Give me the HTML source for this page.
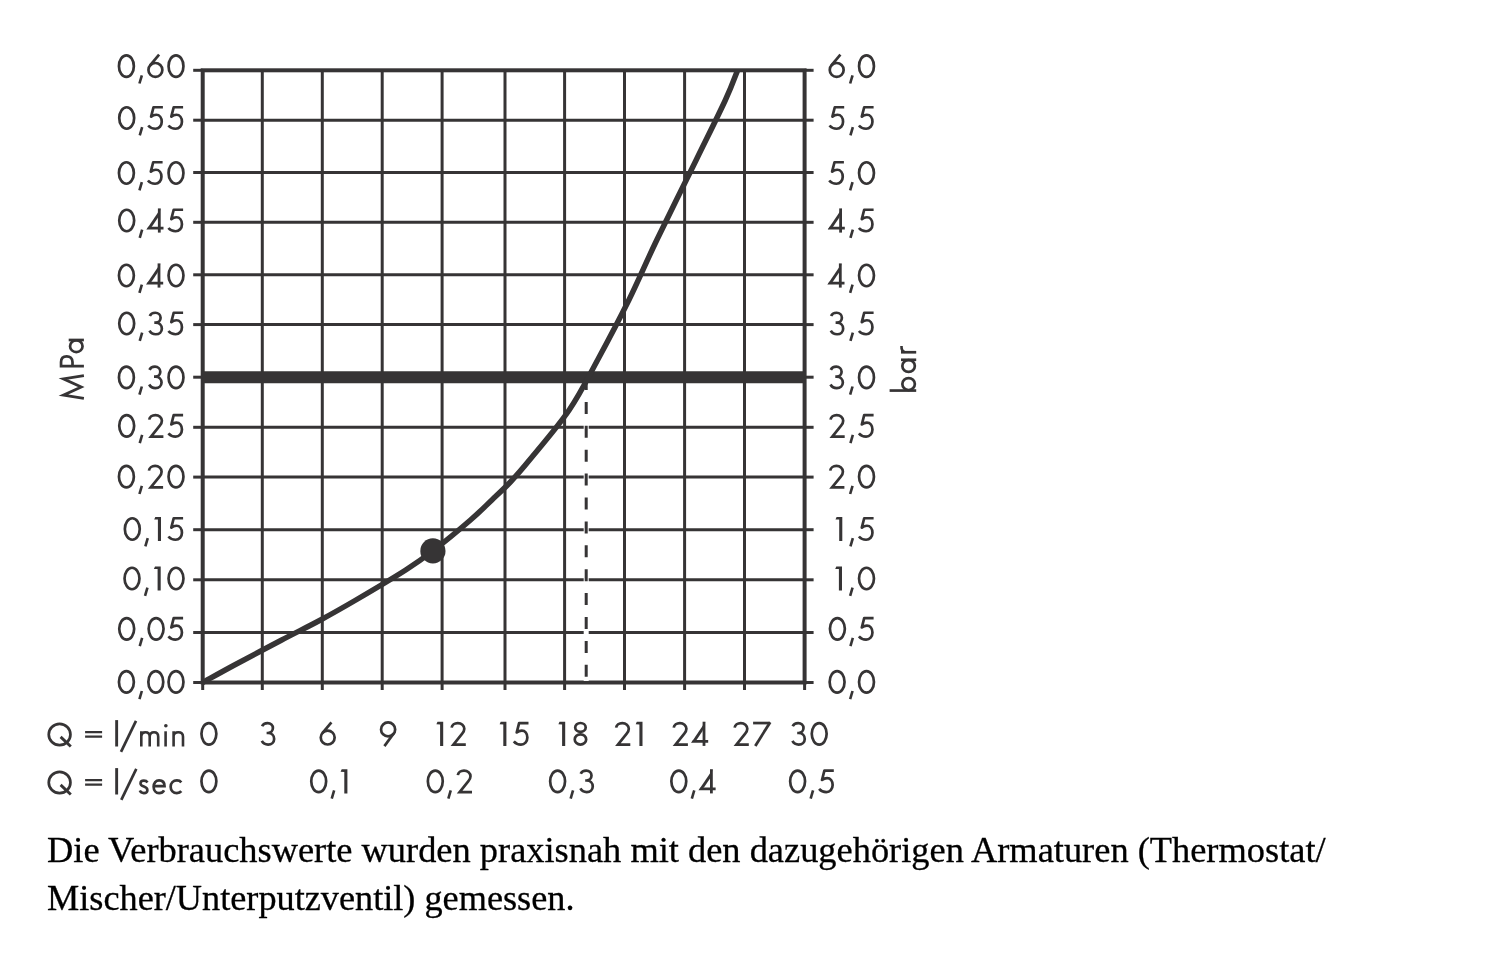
<!DOCTYPE html>
<html><head><meta charset="utf-8"><style>
html,body{margin:0;padding:0;background:#fff;width:1500px;height:956px;overflow:hidden}
svg{position:absolute;left:0;top:0}
.cap{position:absolute;left:47px;will-change:transform;font-family:"Liberation Serif",serif;font-size:36.4px;color:#000;white-space:nowrap;line-height:1;-webkit-text-stroke:0.3px #000}
</style></head><body>
<svg width="1500" height="956" viewBox="0 0 1500 956">
<g stroke="#363435" fill="none">
<line x1="262.3" y1="70.3" x2="262.3" y2="682.5" stroke-width="3"/>
<line x1="322.3" y1="70.3" x2="322.3" y2="682.5" stroke-width="3"/>
<line x1="382.2" y1="70.3" x2="382.2" y2="682.5" stroke-width="3"/>
<line x1="442.1" y1="70.3" x2="442.1" y2="682.5" stroke-width="3"/>
<line x1="505.0" y1="70.3" x2="505.0" y2="682.5" stroke-width="3"/>
<line x1="564.6" y1="70.3" x2="564.6" y2="682.5" stroke-width="3"/>
<line x1="624.5" y1="70.3" x2="624.5" y2="682.5" stroke-width="3"/>
<line x1="684.6" y1="70.3" x2="684.6" y2="682.5" stroke-width="3"/>
<line x1="744.5" y1="70.3" x2="744.5" y2="682.5" stroke-width="3"/>
<line x1="202.7" y1="120.2" x2="804.6" y2="120.2" stroke-width="3"/>
<line x1="202.7" y1="172.5" x2="804.6" y2="172.5" stroke-width="3"/>
<line x1="202.7" y1="222.3" x2="804.6" y2="222.3" stroke-width="3"/>
<line x1="202.7" y1="274.8" x2="804.6" y2="274.8" stroke-width="3"/>
<line x1="202.7" y1="324.6" x2="804.6" y2="324.6" stroke-width="3"/>
<line x1="202.7" y1="377.2" x2="804.6" y2="377.2" stroke-width="3"/>
<line x1="202.7" y1="427.3" x2="804.6" y2="427.3" stroke-width="3"/>
<line x1="202.7" y1="477.1" x2="804.6" y2="477.1" stroke-width="3"/>
<line x1="202.7" y1="529.7" x2="804.6" y2="529.7" stroke-width="3"/>
<line x1="202.7" y1="579.8" x2="804.6" y2="579.8" stroke-width="3"/>
<line x1="202.7" y1="632.5" x2="804.6" y2="632.5" stroke-width="3"/>
<line x1="193.2" y1="70.3" x2="202.7" y2="70.3" stroke-width="3"/>
<line x1="804.6" y1="70.3" x2="813.6" y2="70.3" stroke-width="3"/>
<line x1="193.2" y1="120.2" x2="202.7" y2="120.2" stroke-width="3"/>
<line x1="804.6" y1="120.2" x2="813.6" y2="120.2" stroke-width="3"/>
<line x1="193.2" y1="172.5" x2="202.7" y2="172.5" stroke-width="3"/>
<line x1="804.6" y1="172.5" x2="813.6" y2="172.5" stroke-width="3"/>
<line x1="193.2" y1="222.3" x2="202.7" y2="222.3" stroke-width="3"/>
<line x1="804.6" y1="222.3" x2="813.6" y2="222.3" stroke-width="3"/>
<line x1="193.2" y1="274.8" x2="202.7" y2="274.8" stroke-width="3"/>
<line x1="804.6" y1="274.8" x2="813.6" y2="274.8" stroke-width="3"/>
<line x1="193.2" y1="324.6" x2="202.7" y2="324.6" stroke-width="3"/>
<line x1="804.6" y1="324.6" x2="813.6" y2="324.6" stroke-width="3"/>
<line x1="193.2" y1="377.2" x2="202.7" y2="377.2" stroke-width="3"/>
<line x1="804.6" y1="377.2" x2="813.6" y2="377.2" stroke-width="3"/>
<line x1="193.2" y1="427.3" x2="202.7" y2="427.3" stroke-width="3"/>
<line x1="804.6" y1="427.3" x2="813.6" y2="427.3" stroke-width="3"/>
<line x1="193.2" y1="477.1" x2="202.7" y2="477.1" stroke-width="3"/>
<line x1="804.6" y1="477.1" x2="813.6" y2="477.1" stroke-width="3"/>
<line x1="193.2" y1="529.7" x2="202.7" y2="529.7" stroke-width="3"/>
<line x1="804.6" y1="529.7" x2="813.6" y2="529.7" stroke-width="3"/>
<line x1="193.2" y1="579.8" x2="202.7" y2="579.8" stroke-width="3"/>
<line x1="804.6" y1="579.8" x2="813.6" y2="579.8" stroke-width="3"/>
<line x1="193.2" y1="632.5" x2="202.7" y2="632.5" stroke-width="3"/>
<line x1="804.6" y1="632.5" x2="813.6" y2="632.5" stroke-width="3"/>
<line x1="193.2" y1="682.5" x2="202.7" y2="682.5" stroke-width="3"/>
<line x1="804.6" y1="682.5" x2="813.6" y2="682.5" stroke-width="3"/>
<line x1="202.7" y1="682.5" x2="202.7" y2="690" stroke-width="3"/>
<line x1="262.3" y1="682.5" x2="262.3" y2="690" stroke-width="3"/>
<line x1="322.3" y1="682.5" x2="322.3" y2="690" stroke-width="3"/>
<line x1="382.2" y1="682.5" x2="382.2" y2="690" stroke-width="3"/>
<line x1="442.1" y1="682.5" x2="442.1" y2="690" stroke-width="3"/>
<line x1="505.0" y1="682.5" x2="505.0" y2="690" stroke-width="3"/>
<line x1="564.6" y1="682.5" x2="564.6" y2="690" stroke-width="3"/>
<line x1="624.5" y1="682.5" x2="624.5" y2="690" stroke-width="3"/>
<line x1="684.6" y1="682.5" x2="684.6" y2="690" stroke-width="3"/>
<line x1="744.5" y1="682.5" x2="744.5" y2="690" stroke-width="3"/>
<line x1="804.6" y1="682.5" x2="804.6" y2="690" stroke-width="3"/>
<rect x="202.7" y="70.3" width="601.9" height="612.2" fill="none" stroke-width="4"/>
<line x1="202.7" y1="377.2" x2="804.6" y2="377.2" stroke-width="12"/>
<line x1="586.2" y1="384" x2="586.2" y2="681" stroke-width="5" stroke="#fff"/>
<line x1="586.2" y1="378" x2="586.2" y2="682" stroke-width="3" stroke-dasharray="12 11.9"/>
<path d="M202.7,682.5 C208.0,679.6 221.3,672.1 234.5,665.0 C247.7,657.9 267.4,647.5 281.7,640.0 C296.0,632.5 308.1,626.7 320.5,620.0 C332.9,613.3 341.7,608.3 355.9,600.0 C370.1,591.7 392.9,578.2 405.7,570.0 C418.5,561.8 422.1,559.2 432.9,550.9 C443.7,542.6 460.7,528.5 470.5,520.0 C480.3,511.5 485.2,506.3 491.9,500.0 C498.5,493.7 504.1,488.7 510.4,482.0 C516.7,475.3 519.7,472.0 529.5,460.0 C539.3,448.0 557.9,426.7 569.2,410.0 C580.6,393.3 587.7,378.3 597.6,360.0 C607.5,341.7 619.0,320.0 628.9,300.0 C638.8,280.0 645.6,263.3 656.8,240.0 C668.0,216.7 684.8,183.3 696.2,160.0 C707.6,136.7 718.5,115.0 725.4,100.0 C732.3,85.0 735.6,75.2 737.6,70.2" fill="none" stroke-width="5.5" stroke-linecap="butt"/>
<circle cx="432.9" cy="550.9" r="12.6" fill="#363435" stroke="none"/>
</g>
<g stroke="#363435" fill="none" color="#363435" stroke-linecap="butt" stroke-linejoin="miter" stroke-miterlimit="10">
<path transform="translate(117.6,78.3)" d="M1.35,-12.1 a7.45,10.75 0 1,0 14.9,0 a7.45,10.75 0 1,0 -14.9,0" stroke-width="2.7"/>
<path transform="translate(138.3,78.3)" d="M3.55,-3.0 L1.15,5.2" stroke-width="2.6"/>
<path transform="translate(147.1,78.3)" d="M1.35,-8.35 a6.95,6.95 0 1,0 13.9,0 a6.95,6.95 0 1,0 -13.9,0" stroke-width="2.7"/>
<path transform="translate(147.1,78.3)" d="M12,-23.6 L2.97,-12.81" stroke-width="2.7"/>
<path transform="translate(167.2,78.3)" d="M1.35,-12.1 a7.45,10.75 0 1,0 14.9,0 a7.45,10.75 0 1,0 -14.9,0" stroke-width="2.7"/>
<path transform="translate(117.9,130.1)" d="M1.35,-12.1 a7.45,10.75 0 1,0 14.9,0 a7.45,10.75 0 1,0 -14.9,0" stroke-width="2.7"/>
<path transform="translate(138.6,130.1)" d="M3.55,-3.0 L1.15,5.2" stroke-width="2.6"/>
<path transform="translate(147,130.1)" d="M15.9,-22.85 L6.5,-22.85 L4.1,-13.4 C5.6,-14.7 7.5,-15.35 9.2,-15.35 C12.5,-15.35 14.75,-12.4 14.75,-8.4 C14.75,-4.3 12.0,-1.35 8.4,-1.35 C5.6,-1.35 2.9,-2.6 1.2,-4.6" stroke-width="2.7" stroke-linejoin="round"/>
<path transform="translate(167.2,130.1)" d="M15.9,-22.85 L6.5,-22.85 L4.1,-13.4 C5.6,-14.7 7.5,-15.35 9.2,-15.35 C12.5,-15.35 14.75,-12.4 14.75,-8.4 C14.75,-4.3 12.0,-1.35 8.4,-1.35 C5.6,-1.35 2.9,-2.6 1.2,-4.6" stroke-width="2.7" stroke-linejoin="round"/>
<path transform="translate(117.6,185.1)" d="M1.35,-12.1 a7.45,10.75 0 1,0 14.9,0 a7.45,10.75 0 1,0 -14.9,0" stroke-width="2.7"/>
<path transform="translate(138.3,185.1)" d="M3.55,-3.0 L1.15,5.2" stroke-width="2.6"/>
<path transform="translate(146.7,185.1)" d="M15.9,-22.85 L6.5,-22.85 L4.1,-13.4 C5.6,-14.7 7.5,-15.35 9.2,-15.35 C12.5,-15.35 14.75,-12.4 14.75,-8.4 C14.75,-4.3 12.0,-1.35 8.4,-1.35 C5.6,-1.35 2.9,-2.6 1.2,-4.6" stroke-width="2.7" stroke-linejoin="round"/>
<path transform="translate(167.2,185.1)" d="M1.35,-12.1 a7.45,10.75 0 1,0 14.9,0 a7.45,10.75 0 1,0 -14.9,0" stroke-width="2.7"/>
<path transform="translate(117.9,232.6)" d="M1.35,-12.1 a7.45,10.75 0 1,0 14.9,0 a7.45,10.75 0 1,0 -14.9,0" stroke-width="2.7"/>
<path transform="translate(138.6,232.6)" d="M3.55,-3.0 L1.15,5.2" stroke-width="2.6"/>
<path transform="translate(146.5,232.6)" d="M11.4,-24.2 L14.2,-24.2 L14.2,0 L11.4,0 Z" fill="currentColor" stroke="none"/>
<path transform="translate(146.5,232.6)" d="M0,-3.15 L17,-3.15 L17,-5.85 L1.82,-5.85 Z" fill="currentColor" stroke="none"/>
<path transform="translate(146.5,232.6)" d="M0,-3.15 L14.2,-24.2 L11.4,-14.86 L5.32,-5.85 Z" fill="currentColor" stroke="none"/>
<path transform="translate(167.2,232.6)" d="M15.9,-22.85 L6.5,-22.85 L4.1,-13.4 C5.6,-14.7 7.5,-15.35 9.2,-15.35 C12.5,-15.35 14.75,-12.4 14.75,-8.4 C14.75,-4.3 12.0,-1.35 8.4,-1.35 C5.6,-1.35 2.9,-2.6 1.2,-4.6" stroke-width="2.7" stroke-linejoin="round"/>
<path transform="translate(117.6,287.6)" d="M1.35,-12.1 a7.45,10.75 0 1,0 14.9,0 a7.45,10.75 0 1,0 -14.9,0" stroke-width="2.7"/>
<path transform="translate(138.3,287.6)" d="M3.55,-3.0 L1.15,5.2" stroke-width="2.6"/>
<path transform="translate(146.2,287.6)" d="M11.4,-24.2 L14.2,-24.2 L14.2,0 L11.4,0 Z" fill="currentColor" stroke="none"/>
<path transform="translate(146.2,287.6)" d="M0,-3.15 L17,-3.15 L17,-5.85 L1.82,-5.85 Z" fill="currentColor" stroke="none"/>
<path transform="translate(146.2,287.6)" d="M0,-3.15 L14.2,-24.2 L11.4,-14.86 L5.32,-5.85 Z" fill="currentColor" stroke="none"/>
<path transform="translate(167.2,287.6)" d="M1.35,-12.1 a7.45,10.75 0 1,0 14.9,0 a7.45,10.75 0 1,0 -14.9,0" stroke-width="2.7"/>
<path transform="translate(117.9,335.6)" d="M1.35,-12.1 a7.45,10.75 0 1,0 14.9,0 a7.45,10.75 0 1,0 -14.9,0" stroke-width="2.7"/>
<path transform="translate(138.6,335.6)" d="M3.55,-3.0 L1.15,5.2" stroke-width="2.6"/>
<path transform="translate(148.3,335.6)" d="M1.5,-19.6 C2.4,-21.7 4.6,-22.85 7.0,-22.85 C10.0,-22.85 12.3,-20.6 12.3,-17.8 C12.3,-15.0 10.2,-12.9 7.3,-12.9 L6.0,-12.9 M6.0,-12.9 L7.4,-12.9 C11.0,-12.9 13.55,-10.2 13.55,-6.9 C13.55,-3.7 11.0,-1.35 7.5,-1.35 C4.8,-1.35 2.4,-2.8 1.2,-5.0" stroke-width="2.7"/>
<path transform="translate(167.2,335.6)" d="M15.9,-22.85 L6.5,-22.85 L4.1,-13.4 C5.6,-14.7 7.5,-15.35 9.2,-15.35 C12.5,-15.35 14.75,-12.4 14.75,-8.4 C14.75,-4.3 12.0,-1.35 8.4,-1.35 C5.6,-1.35 2.9,-2.6 1.2,-4.6" stroke-width="2.7" stroke-linejoin="round"/>
<path transform="translate(117.6,389.5)" d="M1.35,-12.1 a7.45,10.75 0 1,0 14.9,0 a7.45,10.75 0 1,0 -14.9,0" stroke-width="2.7"/>
<path transform="translate(138.3,389.5)" d="M3.55,-3.0 L1.15,5.2" stroke-width="2.6"/>
<path transform="translate(148,389.5)" d="M1.5,-19.6 C2.4,-21.7 4.6,-22.85 7.0,-22.85 C10.0,-22.85 12.3,-20.6 12.3,-17.8 C12.3,-15.0 10.2,-12.9 7.3,-12.9 L6.0,-12.9 M6.0,-12.9 L7.4,-12.9 C11.0,-12.9 13.55,-10.2 13.55,-6.9 C13.55,-3.7 11.0,-1.35 7.5,-1.35 C4.8,-1.35 2.4,-2.8 1.2,-5.0" stroke-width="2.7"/>
<path transform="translate(167.2,389.5)" d="M1.35,-12.1 a7.45,10.75 0 1,0 14.9,0 a7.45,10.75 0 1,0 -14.9,0" stroke-width="2.7"/>
<path transform="translate(117.9,437.9)" d="M1.35,-12.1 a7.45,10.75 0 1,0 14.9,0 a7.45,10.75 0 1,0 -14.9,0" stroke-width="2.7"/>
<path transform="translate(138.6,437.9)" d="M3.55,-3.0 L1.15,5.2" stroke-width="2.6"/>
<path transform="translate(147.9,437.9)" d="M1.35,-18.2 C1.6,-21.0 4.3,-22.85 7.5,-22.85 C11.1,-22.85 14.0,-20.4 14.0,-17.1 C14.0,-15.0 13.1,-13.6 11.9,-12.2 L3.1,-1.35 L15.5,-1.35" stroke-width="2.7"/>
<path transform="translate(167.2,437.9)" d="M15.9,-22.85 L6.5,-22.85 L4.1,-13.4 C5.6,-14.7 7.5,-15.35 9.2,-15.35 C12.5,-15.35 14.75,-12.4 14.75,-8.4 C14.75,-4.3 12.0,-1.35 8.4,-1.35 C5.6,-1.35 2.9,-2.6 1.2,-4.6" stroke-width="2.7" stroke-linejoin="round"/>
<path transform="translate(117.6,488.8)" d="M1.35,-12.1 a7.45,10.75 0 1,0 14.9,0 a7.45,10.75 0 1,0 -14.9,0" stroke-width="2.7"/>
<path transform="translate(138.3,488.8)" d="M3.55,-3.0 L1.15,5.2" stroke-width="2.6"/>
<path transform="translate(147.6,488.8)" d="M1.35,-18.2 C1.6,-21.0 4.3,-22.85 7.5,-22.85 C11.1,-22.85 14.0,-20.4 14.0,-17.1 C14.0,-15.0 13.1,-13.6 11.9,-12.2 L3.1,-1.35 L15.5,-1.35" stroke-width="2.7"/>
<path transform="translate(167.2,488.8)" d="M1.35,-12.1 a7.45,10.75 0 1,0 14.9,0 a7.45,10.75 0 1,0 -14.9,0" stroke-width="2.7"/>
<path transform="translate(123.5,541.1)" d="M1.35,-12.1 a7.45,10.75 0 1,0 14.9,0 a7.45,10.75 0 1,0 -14.9,0" stroke-width="2.7"/>
<path transform="translate(144.2,541.1)" d="M3.55,-3.0 L1.15,5.2" stroke-width="2.6"/>
<path transform="translate(154.2,541.1)" d="M3.7,-24.2 L6.8,-24.2 L6.8,0 L3.7,0 Z M0,-21.6 L1.1,-24.2 L3.9,-24.2 L3.9,-21.5 Z" fill="currentColor" stroke="none"/>
<path transform="translate(167.2,541.1)" d="M15.9,-22.85 L6.5,-22.85 L4.1,-13.4 C5.6,-14.7 7.5,-15.35 9.2,-15.35 C12.5,-15.35 14.75,-12.4 14.75,-8.4 C14.75,-4.3 12.0,-1.35 8.4,-1.35 C5.6,-1.35 2.9,-2.6 1.2,-4.6" stroke-width="2.7" stroke-linejoin="round"/>
<path transform="translate(123.2,590.6)" d="M1.35,-12.1 a7.45,10.75 0 1,0 14.9,0 a7.45,10.75 0 1,0 -14.9,0" stroke-width="2.7"/>
<path transform="translate(143.9,590.6)" d="M3.55,-3.0 L1.15,5.2" stroke-width="2.6"/>
<path transform="translate(153.9,590.6)" d="M3.7,-24.2 L6.8,-24.2 L6.8,0 L3.7,0 Z M0,-21.6 L1.1,-24.2 L3.9,-24.2 L3.9,-21.5 Z" fill="currentColor" stroke="none"/>
<path transform="translate(167.2,590.6)" d="M1.35,-12.1 a7.45,10.75 0 1,0 14.9,0 a7.45,10.75 0 1,0 -14.9,0" stroke-width="2.7"/>
<path transform="translate(117.9,640.9)" d="M1.35,-12.1 a7.45,10.75 0 1,0 14.9,0 a7.45,10.75 0 1,0 -14.9,0" stroke-width="2.7"/>
<path transform="translate(138.6,640.9)" d="M3.55,-3.0 L1.15,5.2" stroke-width="2.6"/>
<path transform="translate(147.3,640.9)" d="M1.35,-12.1 a7.45,10.75 0 1,0 14.9,0 a7.45,10.75 0 1,0 -14.9,0" stroke-width="2.7"/>
<path transform="translate(167.2,640.9)" d="M15.9,-22.85 L6.5,-22.85 L4.1,-13.4 C5.6,-14.7 7.5,-15.35 9.2,-15.35 C12.5,-15.35 14.75,-12.4 14.75,-8.4 C14.75,-4.3 12.0,-1.35 8.4,-1.35 C5.6,-1.35 2.9,-2.6 1.2,-4.6" stroke-width="2.7" stroke-linejoin="round"/>
<path transform="translate(117.6,694)" d="M1.35,-12.1 a7.45,10.75 0 1,0 14.9,0 a7.45,10.75 0 1,0 -14.9,0" stroke-width="2.7"/>
<path transform="translate(138.3,694)" d="M3.55,-3.0 L1.15,5.2" stroke-width="2.6"/>
<path transform="translate(147,694)" d="M1.35,-12.1 a7.45,10.75 0 1,0 14.9,0 a7.45,10.75 0 1,0 -14.9,0" stroke-width="2.7"/>
<path transform="translate(167.2,694)" d="M1.35,-12.1 a7.45,10.75 0 1,0 14.9,0 a7.45,10.75 0 1,0 -14.9,0" stroke-width="2.7"/>
<path transform="translate(828.4,78.3)" d="M1.35,-8.35 a6.95,6.95 0 1,0 13.9,0 a6.95,6.95 0 1,0 -13.9,0" stroke-width="2.7"/>
<path transform="translate(828.4,78.3)" d="M12,-23.6 L2.97,-12.81" stroke-width="2.7"/>
<path transform="translate(849,78.3)" d="M3.55,-3.0 L1.15,5.2" stroke-width="2.6"/>
<path transform="translate(857.7,78.3)" d="M1.35,-12.1 a7.45,10.75 0 1,0 14.9,0 a7.45,10.75 0 1,0 -14.9,0" stroke-width="2.7"/>
<path transform="translate(828.3,130.1)" d="M15.9,-22.85 L6.5,-22.85 L4.1,-13.4 C5.6,-14.7 7.5,-15.35 9.2,-15.35 C12.5,-15.35 14.75,-12.4 14.75,-8.4 C14.75,-4.3 12.0,-1.35 8.4,-1.35 C5.6,-1.35 2.9,-2.6 1.2,-4.6" stroke-width="2.7" stroke-linejoin="round"/>
<path transform="translate(849.3,130.1)" d="M3.55,-3.0 L1.15,5.2" stroke-width="2.6"/>
<path transform="translate(857.7,130.1)" d="M15.9,-22.85 L6.5,-22.85 L4.1,-13.4 C5.6,-14.7 7.5,-15.35 9.2,-15.35 C12.5,-15.35 14.75,-12.4 14.75,-8.4 C14.75,-4.3 12.0,-1.35 8.4,-1.35 C5.6,-1.35 2.9,-2.6 1.2,-4.6" stroke-width="2.7" stroke-linejoin="round"/>
<path transform="translate(828,185.1)" d="M15.9,-22.85 L6.5,-22.85 L4.1,-13.4 C5.6,-14.7 7.5,-15.35 9.2,-15.35 C12.5,-15.35 14.75,-12.4 14.75,-8.4 C14.75,-4.3 12.0,-1.35 8.4,-1.35 C5.6,-1.35 2.9,-2.6 1.2,-4.6" stroke-width="2.7" stroke-linejoin="round"/>
<path transform="translate(849,185.1)" d="M3.55,-3.0 L1.15,5.2" stroke-width="2.6"/>
<path transform="translate(857.7,185.1)" d="M1.35,-12.1 a7.45,10.75 0 1,0 14.9,0 a7.45,10.75 0 1,0 -14.9,0" stroke-width="2.7"/>
<path transform="translate(827.8,232.6)" d="M11.4,-24.2 L14.2,-24.2 L14.2,0 L11.4,0 Z" fill="currentColor" stroke="none"/>
<path transform="translate(827.8,232.6)" d="M0,-3.15 L17,-3.15 L17,-5.85 L1.82,-5.85 Z" fill="currentColor" stroke="none"/>
<path transform="translate(827.8,232.6)" d="M0,-3.15 L14.2,-24.2 L11.4,-14.86 L5.32,-5.85 Z" fill="currentColor" stroke="none"/>
<path transform="translate(849.3,232.6)" d="M3.55,-3.0 L1.15,5.2" stroke-width="2.6"/>
<path transform="translate(857.7,232.6)" d="M15.9,-22.85 L6.5,-22.85 L4.1,-13.4 C5.6,-14.7 7.5,-15.35 9.2,-15.35 C12.5,-15.35 14.75,-12.4 14.75,-8.4 C14.75,-4.3 12.0,-1.35 8.4,-1.35 C5.6,-1.35 2.9,-2.6 1.2,-4.6" stroke-width="2.7" stroke-linejoin="round"/>
<path transform="translate(827.5,287.6)" d="M11.4,-24.2 L14.2,-24.2 L14.2,0 L11.4,0 Z" fill="currentColor" stroke="none"/>
<path transform="translate(827.5,287.6)" d="M0,-3.15 L17,-3.15 L17,-5.85 L1.82,-5.85 Z" fill="currentColor" stroke="none"/>
<path transform="translate(827.5,287.6)" d="M0,-3.15 L14.2,-24.2 L11.4,-14.86 L5.32,-5.85 Z" fill="currentColor" stroke="none"/>
<path transform="translate(849,287.6)" d="M3.55,-3.0 L1.15,5.2" stroke-width="2.6"/>
<path transform="translate(857.7,287.6)" d="M1.35,-12.1 a7.45,10.75 0 1,0 14.9,0 a7.45,10.75 0 1,0 -14.9,0" stroke-width="2.7"/>
<path transform="translate(829.6,335.6)" d="M1.5,-19.6 C2.4,-21.7 4.6,-22.85 7.0,-22.85 C10.0,-22.85 12.3,-20.6 12.3,-17.8 C12.3,-15.0 10.2,-12.9 7.3,-12.9 L6.0,-12.9 M6.0,-12.9 L7.4,-12.9 C11.0,-12.9 13.55,-10.2 13.55,-6.9 C13.55,-3.7 11.0,-1.35 7.5,-1.35 C4.8,-1.35 2.4,-2.8 1.2,-5.0" stroke-width="2.7"/>
<path transform="translate(849.3,335.6)" d="M3.55,-3.0 L1.15,5.2" stroke-width="2.6"/>
<path transform="translate(857.7,335.6)" d="M15.9,-22.85 L6.5,-22.85 L4.1,-13.4 C5.6,-14.7 7.5,-15.35 9.2,-15.35 C12.5,-15.35 14.75,-12.4 14.75,-8.4 C14.75,-4.3 12.0,-1.35 8.4,-1.35 C5.6,-1.35 2.9,-2.6 1.2,-4.6" stroke-width="2.7" stroke-linejoin="round"/>
<path transform="translate(829.3,389.5)" d="M1.5,-19.6 C2.4,-21.7 4.6,-22.85 7.0,-22.85 C10.0,-22.85 12.3,-20.6 12.3,-17.8 C12.3,-15.0 10.2,-12.9 7.3,-12.9 L6.0,-12.9 M6.0,-12.9 L7.4,-12.9 C11.0,-12.9 13.55,-10.2 13.55,-6.9 C13.55,-3.7 11.0,-1.35 7.5,-1.35 C4.8,-1.35 2.4,-2.8 1.2,-5.0" stroke-width="2.7"/>
<path transform="translate(849,389.5)" d="M3.55,-3.0 L1.15,5.2" stroke-width="2.6"/>
<path transform="translate(857.7,389.5)" d="M1.35,-12.1 a7.45,10.75 0 1,0 14.9,0 a7.45,10.75 0 1,0 -14.9,0" stroke-width="2.7"/>
<path transform="translate(829.2,437.9)" d="M1.35,-18.2 C1.6,-21.0 4.3,-22.85 7.5,-22.85 C11.1,-22.85 14.0,-20.4 14.0,-17.1 C14.0,-15.0 13.1,-13.6 11.9,-12.2 L3.1,-1.35 L15.5,-1.35" stroke-width="2.7"/>
<path transform="translate(849.3,437.9)" d="M3.55,-3.0 L1.15,5.2" stroke-width="2.6"/>
<path transform="translate(857.7,437.9)" d="M15.9,-22.85 L6.5,-22.85 L4.1,-13.4 C5.6,-14.7 7.5,-15.35 9.2,-15.35 C12.5,-15.35 14.75,-12.4 14.75,-8.4 C14.75,-4.3 12.0,-1.35 8.4,-1.35 C5.6,-1.35 2.9,-2.6 1.2,-4.6" stroke-width="2.7" stroke-linejoin="round"/>
<path transform="translate(828.9,488.8)" d="M1.35,-18.2 C1.6,-21.0 4.3,-22.85 7.5,-22.85 C11.1,-22.85 14.0,-20.4 14.0,-17.1 C14.0,-15.0 13.1,-13.6 11.9,-12.2 L3.1,-1.35 L15.5,-1.35" stroke-width="2.7"/>
<path transform="translate(849,488.8)" d="M3.55,-3.0 L1.15,5.2" stroke-width="2.6"/>
<path transform="translate(857.7,488.8)" d="M1.35,-12.1 a7.45,10.75 0 1,0 14.9,0 a7.45,10.75 0 1,0 -14.9,0" stroke-width="2.7"/>
<path transform="translate(835.5,541.1)" d="M3.7,-24.2 L6.8,-24.2 L6.8,0 L3.7,0 Z M0,-21.6 L1.1,-24.2 L3.9,-24.2 L3.9,-21.5 Z" fill="currentColor" stroke="none"/>
<path transform="translate(849.3,541.1)" d="M3.55,-3.0 L1.15,5.2" stroke-width="2.6"/>
<path transform="translate(857.7,541.1)" d="M15.9,-22.85 L6.5,-22.85 L4.1,-13.4 C5.6,-14.7 7.5,-15.35 9.2,-15.35 C12.5,-15.35 14.75,-12.4 14.75,-8.4 C14.75,-4.3 12.0,-1.35 8.4,-1.35 C5.6,-1.35 2.9,-2.6 1.2,-4.6" stroke-width="2.7" stroke-linejoin="round"/>
<path transform="translate(835.2,590.6)" d="M3.7,-24.2 L6.8,-24.2 L6.8,0 L3.7,0 Z M0,-21.6 L1.1,-24.2 L3.9,-24.2 L3.9,-21.5 Z" fill="currentColor" stroke="none"/>
<path transform="translate(849,590.6)" d="M3.55,-3.0 L1.15,5.2" stroke-width="2.6"/>
<path transform="translate(857.7,590.6)" d="M1.35,-12.1 a7.45,10.75 0 1,0 14.9,0 a7.45,10.75 0 1,0 -14.9,0" stroke-width="2.7"/>
<path transform="translate(828.6,640.9)" d="M1.35,-12.1 a7.45,10.75 0 1,0 14.9,0 a7.45,10.75 0 1,0 -14.9,0" stroke-width="2.7"/>
<path transform="translate(849.3,640.9)" d="M3.55,-3.0 L1.15,5.2" stroke-width="2.6"/>
<path transform="translate(857.7,640.9)" d="M15.9,-22.85 L6.5,-22.85 L4.1,-13.4 C5.6,-14.7 7.5,-15.35 9.2,-15.35 C12.5,-15.35 14.75,-12.4 14.75,-8.4 C14.75,-4.3 12.0,-1.35 8.4,-1.35 C5.6,-1.35 2.9,-2.6 1.2,-4.6" stroke-width="2.7" stroke-linejoin="round"/>
<path transform="translate(828.3,694)" d="M1.35,-12.1 a7.45,10.75 0 1,0 14.9,0 a7.45,10.75 0 1,0 -14.9,0" stroke-width="2.7"/>
<path transform="translate(849,694)" d="M3.55,-3.0 L1.15,5.2" stroke-width="2.6"/>
<path transform="translate(857.7,694)" d="M1.35,-12.1 a7.45,10.75 0 1,0 14.9,0 a7.45,10.75 0 1,0 -14.9,0" stroke-width="2.7"/>
<path transform="translate(200.1,745.9)" d="M1.35,-12.1 a7.45,10.75 0 1,0 14.9,0 a7.45,10.75 0 1,0 -14.9,0" stroke-width="2.7"/>
<path transform="translate(260.6,745.9)" d="M1.5,-19.6 C2.4,-21.7 4.6,-22.85 7.0,-22.85 C10.0,-22.85 12.3,-20.6 12.3,-17.8 C12.3,-15.0 10.2,-12.9 7.3,-12.9 L6.0,-12.9 M6.0,-12.9 L7.4,-12.9 C11.0,-12.9 13.55,-10.2 13.55,-6.9 C13.55,-3.7 11.0,-1.35 7.5,-1.35 C4.8,-1.35 2.4,-2.8 1.2,-5.0" stroke-width="2.7"/>
<path transform="translate(319.4,745.9)" d="M1.35,-8.35 a6.95,6.95 0 1,0 13.9,0 a6.95,6.95 0 1,0 -13.9,0" stroke-width="2.7"/>
<path transform="translate(319.4,745.9)" d="M12,-23.6 L2.97,-12.81" stroke-width="2.7"/>
<path transform="translate(379.4,745.9)" d="M1.65,-16.5 a7.05,6.95 0 1,0 14.1,0 a7.05,6.95 0 1,0 -14.1,0" stroke-width="2.7"/>
<path transform="translate(379.4,745.9)" d="M5,0.2 L14.29,-12.37" stroke-width="2.7"/>
<path transform="translate(436.4,745.9)" d="M3.7,-24.2 L6.8,-24.2 L6.8,0 L3.7,0 Z M0,-21.6 L1.1,-24.2 L3.9,-24.2 L3.9,-21.5 Z" fill="currentColor" stroke="none"/>
<path transform="translate(450.3,745.9)" d="M1.35,-18.2 C1.6,-21.0 4.3,-22.85 7.5,-22.85 C11.1,-22.85 14.0,-20.4 14.0,-17.1 C14.0,-15.0 13.1,-13.6 11.9,-12.2 L3.1,-1.35 L15.5,-1.35" stroke-width="2.7"/>
<path transform="translate(499.6,745.9)" d="M3.7,-24.2 L6.8,-24.2 L6.8,0 L3.7,0 Z M0,-21.6 L1.1,-24.2 L3.9,-24.2 L3.9,-21.5 Z" fill="currentColor" stroke="none"/>
<path transform="translate(512.6,745.9)" d="M15.9,-22.85 L6.5,-22.85 L4.1,-13.4 C5.6,-14.7 7.5,-15.35 9.2,-15.35 C12.5,-15.35 14.75,-12.4 14.75,-8.4 C14.75,-4.3 12.0,-1.35 8.4,-1.35 C5.6,-1.35 2.9,-2.6 1.2,-4.6" stroke-width="2.7" stroke-linejoin="round"/>
<path transform="translate(558.4,745.9)" d="M3.7,-24.2 L6.8,-24.2 L6.8,0 L3.7,0 Z M0,-21.6 L1.1,-24.2 L3.9,-24.2 L3.9,-21.5 Z" fill="currentColor" stroke="none"/>
<path transform="translate(573.4,745.9)" d="M1.8,-18.5 a5.25,4.4 0 1,0 10.5,0 a5.25,4.4 0 1,0 -10.5,0" stroke-width="2.7"/>
<path transform="translate(573.4,745.9)" d="M1.35,-6.45 a5.7,5.1 0 1,0 11.4,0 a5.7,5.1 0 1,0 -11.4,0" stroke-width="2.7"/>
<path transform="translate(614.8,745.9)" d="M1.35,-18.2 C1.6,-21.0 4.3,-22.85 7.5,-22.85 C11.1,-22.85 14.0,-20.4 14.0,-17.1 C14.0,-15.0 13.1,-13.6 11.9,-12.2 L3.1,-1.35 L15.5,-1.35" stroke-width="2.7"/>
<path transform="translate(635.7,745.9)" d="M3.7,-24.2 L6.8,-24.2 L6.8,0 L3.7,0 Z M0,-21.6 L1.1,-24.2 L3.9,-24.2 L3.9,-21.5 Z" fill="currentColor" stroke="none"/>
<path transform="translate(672.4,745.9)" d="M1.35,-18.2 C1.6,-21.0 4.3,-22.85 7.5,-22.85 C11.1,-22.85 14.0,-20.4 14.0,-17.1 C14.0,-15.0 13.1,-13.6 11.9,-12.2 L3.1,-1.35 L15.5,-1.35" stroke-width="2.7"/>
<path transform="translate(691.2,745.9)" d="M11.4,-24.2 L14.2,-24.2 L14.2,0 L11.4,0 Z" fill="currentColor" stroke="none"/>
<path transform="translate(691.2,745.9)" d="M0,-3.15 L17,-3.15 L17,-5.85 L1.82,-5.85 Z" fill="currentColor" stroke="none"/>
<path transform="translate(691.2,745.9)" d="M0,-3.15 L14.2,-24.2 L11.4,-14.86 L5.32,-5.85 Z" fill="currentColor" stroke="none"/>
<path transform="translate(733.3,745.9)" d="M1.35,-18.2 C1.6,-21.0 4.3,-22.85 7.5,-22.85 C11.1,-22.85 14.0,-20.4 14.0,-17.1 C14.0,-15.0 13.1,-13.6 11.9,-12.2 L3.1,-1.35 L15.5,-1.35" stroke-width="2.7"/>
<path transform="translate(753.1,745.9)" d="M0,-22.85 L16.4,-22.85" stroke-width="2.7"/>
<path transform="translate(753.1,745.9)" d="M17.1,-23.7 L2.2,0" stroke-width="2.8"/>
<path transform="translate(791.2,745.9)" d="M1.5,-19.6 C2.4,-21.7 4.6,-22.85 7.0,-22.85 C10.0,-22.85 12.3,-20.6 12.3,-17.8 C12.3,-15.0 10.2,-12.9 7.3,-12.9 L6.0,-12.9 M6.0,-12.9 L7.4,-12.9 C11.0,-12.9 13.55,-10.2 13.55,-6.9 C13.55,-3.7 11.0,-1.35 7.5,-1.35 C4.8,-1.35 2.4,-2.8 1.2,-5.0" stroke-width="2.7"/>
<path transform="translate(810.4,745.9)" d="M1.35,-12.1 a7.45,10.75 0 1,0 14.9,0 a7.45,10.75 0 1,0 -14.9,0" stroke-width="2.7"/>
<path transform="translate(200.1,793.4)" d="M1.35,-12.1 a7.45,10.75 0 1,0 14.9,0 a7.45,10.75 0 1,0 -14.9,0" stroke-width="2.7"/>
<path transform="translate(309.9,793.4)" d="M1.35,-12.1 a7.45,10.75 0 1,0 14.9,0 a7.45,10.75 0 1,0 -14.9,0" stroke-width="2.7"/>
<path transform="translate(330.6,793.4)" d="M3.55,-3.0 L1.15,5.2" stroke-width="2.6"/>
<path transform="translate(340.6,793.4)" d="M3.7,-24.2 L6.8,-24.2 L6.8,0 L3.7,0 Z M0,-21.6 L1.1,-24.2 L3.9,-24.2 L3.9,-21.5 Z" fill="currentColor" stroke="none"/>
<path transform="translate(426.5,793.4)" d="M1.35,-12.1 a7.45,10.75 0 1,0 14.9,0 a7.45,10.75 0 1,0 -14.9,0" stroke-width="2.7"/>
<path transform="translate(447.2,793.4)" d="M3.55,-3.0 L1.15,5.2" stroke-width="2.6"/>
<path transform="translate(456.5,793.4)" d="M1.35,-18.2 C1.6,-21.0 4.3,-22.85 7.5,-22.85 C11.1,-22.85 14.0,-20.4 14.0,-17.1 C14.0,-15.0 13.1,-13.6 11.9,-12.2 L3.1,-1.35 L15.5,-1.35" stroke-width="2.7"/>
<path transform="translate(548.8,793.4)" d="M1.35,-12.1 a7.45,10.75 0 1,0 14.9,0 a7.45,10.75 0 1,0 -14.9,0" stroke-width="2.7"/>
<path transform="translate(569.5,793.4)" d="M3.55,-3.0 L1.15,5.2" stroke-width="2.6"/>
<path transform="translate(579.2,793.4)" d="M1.5,-19.6 C2.4,-21.7 4.6,-22.85 7.0,-22.85 C10.0,-22.85 12.3,-20.6 12.3,-17.8 C12.3,-15.0 10.2,-12.9 7.3,-12.9 L6.0,-12.9 M6.0,-12.9 L7.4,-12.9 C11.0,-12.9 13.55,-10.2 13.55,-6.9 C13.55,-3.7 11.0,-1.35 7.5,-1.35 C4.8,-1.35 2.4,-2.8 1.2,-5.0" stroke-width="2.7"/>
<path transform="translate(670,793.4)" d="M1.35,-12.1 a7.45,10.75 0 1,0 14.9,0 a7.45,10.75 0 1,0 -14.9,0" stroke-width="2.7"/>
<path transform="translate(690.7,793.4)" d="M3.55,-3.0 L1.15,5.2" stroke-width="2.6"/>
<path transform="translate(698.6,793.4)" d="M11.4,-24.2 L14.2,-24.2 L14.2,0 L11.4,0 Z" fill="currentColor" stroke="none"/>
<path transform="translate(698.6,793.4)" d="M0,-3.15 L17,-3.15 L17,-5.85 L1.82,-5.85 Z" fill="currentColor" stroke="none"/>
<path transform="translate(698.6,793.4)" d="M0,-3.15 L14.2,-24.2 L11.4,-14.86 L5.32,-5.85 Z" fill="currentColor" stroke="none"/>
<path transform="translate(788.8,793.4)" d="M1.35,-12.1 a7.45,10.75 0 1,0 14.9,0 a7.45,10.75 0 1,0 -14.9,0" stroke-width="2.7"/>
<path transform="translate(809.5,793.4)" d="M3.55,-3.0 L1.15,5.2" stroke-width="2.6"/>
<path transform="translate(817.9,793.4)" d="M15.9,-22.85 L6.5,-22.85 L4.1,-13.4 C5.6,-14.7 7.5,-15.35 9.2,-15.35 C12.5,-15.35 14.75,-12.4 14.75,-8.4 C14.75,-4.3 12.0,-1.35 8.4,-1.35 C5.6,-1.35 2.9,-2.6 1.2,-4.6" stroke-width="2.7" stroke-linejoin="round"/>
<path transform="translate(47.2,746.5)" d="M1.55,-12 a10.85,10.65 0 1,0 21.7,0 a10.85,10.65 0 1,0 -21.7,0" stroke-width="2.7"/>
<path transform="translate(47.2,746.5)" d="M13.4,-9.6 L23.6,0" stroke-width="2.9"/>
<path transform="translate(85.1,746.5)" d="M0,-14.4 L17,-14.4 M0,-9.9 L17,-9.9" stroke-width="2.3"/>
<path transform="translate(115.2,746.5)" d="M1.45,-26.4 L1.45,0" stroke-width="2.9"/>
<path transform="translate(120,746.5)" d="M16.0,-25.6 L1.0,5.4" stroke-width="2.7"/>
<path transform="translate(140,746.5)" d="M1.3,0 L1.3,-15.2 M1.3,-10.5 C1.5,-13.0 3.1,-14.2 5.3,-14.2 C8.0,-14.2 9.7,-12.6 9.7,-9.8 L9.7,0 M9.7,-9.8 C9.9,-12.9 11.7,-14.2 14.0,-14.2 C16.6,-14.2 18.2,-12.6 18.2,-9.8 L18.2,0" stroke-width="2.6"/>
<path transform="translate(164.3,746.5)" d="M1.3,-15.2 L1.3,0" stroke-width="2.6"/>
<path transform="translate(164.3,746.5)" d="M-0.25,-20.7 a1.8,1.8 0 1,0 3.6,0 a1.8,1.8 0 1,0 -3.6,0" fill="currentColor" stroke="none"/>
<path transform="translate(172.3,746.5)" d="M1.3,0 L1.3,-15.2 M1.3,-10.5 C1.5,-13.0 3.4,-14.2 6.0,-14.2 C9.0,-14.2 10.7,-12.5 10.7,-9.7 L10.7,0" stroke-width="2.6"/>
<path transform="translate(47.2,794.5)" d="M1.55,-12 a10.85,10.65 0 1,0 21.7,0 a10.85,10.65 0 1,0 -21.7,0" stroke-width="2.7"/>
<path transform="translate(47.2,794.5)" d="M13.4,-9.6 L23.6,0" stroke-width="2.9"/>
<path transform="translate(85.1,794.5)" d="M0,-14.4 L17,-14.4 M0,-9.9 L17,-9.9" stroke-width="2.3"/>
<path transform="translate(115.2,794.5)" d="M1.45,-26.4 L1.45,0" stroke-width="2.9"/>
<path transform="translate(120.3,794.5)" d="M16.0,-25.6 L1.0,5.4" stroke-width="2.7"/>
<path transform="translate(138.9,794.5)" d="M8.6,-12.0 C7.9,-13.2 6.6,-13.85 5.0,-13.85 C3.0,-13.85 1.6,-12.7 1.6,-11.1 C1.6,-9.3 3.3,-8.5 5.0,-7.9 C7.2,-7.1 8.5,-6.1 8.5,-4.2 C8.5,-2.2 6.9,-1.35 4.9,-1.35 C3.0,-1.35 1.6,-2.3 0.9,-3.9" stroke-width="2.6"/>
<path transform="translate(152.3,794.5)" d="M1.35,-8.3 L12.25,-8.3 C12.25,-12.4 9.8,-14.15 6.8,-14.15 C3.6,-14.15 1.35,-11.4 1.35,-7.75 C1.35,-3.8 3.7,-1.35 6.8,-1.35 C9.0,-1.35 10.8,-2.4 11.8,-4.2" stroke-width="2.7"/>
<path transform="translate(169.3,794.5)" d="M12.0,-12.2 C10.9,-13.6 9.3,-14.15 7.6,-14.15 C3.9,-14.15 1.35,-11.4 1.35,-7.75 C1.35,-4.1 3.9,-1.35 7.6,-1.35 C9.3,-1.35 10.9,-1.9 12.0,-3.3" stroke-width="2.7"/>
<g transform="translate(83.9,399.9) rotate(-90)"><path transform="translate(0,0)" d="M1.6,0 L4.75,-20.6 L12.9,-2.6 L21.05,-20.6 L24.2,0" stroke-width="2.7"/><path transform="translate(32.3,0)" d="M1.4,0 L1.4,-22.85 L5.5,-22.85 C9.6,-22.85 11.3,-20.5 11.3,-17.2 C11.3,-13.8 9.4,-11.4 5.5,-11.4 L1.4,-11.4" stroke-width="2.7"/><path transform="translate(46.6,0)" d="M1.2,-7.6 a5.9,6.25 0 1,0 11.8,0 a5.9,6.25 0 1,0 -11.8,0" stroke-width="2.7"/><path transform="translate(46.6,0)" d="M13.3,-15.2 L13.3,0" stroke-width="2.7"/></g>
<g transform="translate(916.2,392.0) rotate(-90)"><path transform="translate(0.1,0)" d="M1.85,-7.6 a6,6.25 0 1,0 12,0 a6,6.25 0 1,0 -12,0" stroke-width="2.7"/><path transform="translate(0.1,0)" d="M1.35,-26.6 L1.35,0" stroke-width="2.7"/><path transform="translate(18.9,0)" d="M1.2,-7.6 a5.9,6.25 0 1,0 11.8,0 a5.9,6.25 0 1,0 -11.8,0" stroke-width="2.7"/><path transform="translate(18.9,0)" d="M13.3,-15.2 L13.3,0" stroke-width="2.7"/><path transform="translate(38.4,0)" d="M1.35,0 L1.35,-15.2" stroke-width="2.7"/><path transform="translate(38.4,0)" d="M1.6,-11.6 C2.3,-13.8 4.2,-14.85 7.6,-14.7" stroke-width="2.6"/></g>
</g>
</svg>
<div class="cap" style="top:831.5px">Die Verbrauchswerte wurden praxisnah mit den dazugehörigen Armaturen (Thermostat/</div>
<div class="cap" style="top:879.6px;font-size:36.26px">Mischer/Unterputzventil) gemessen.</div>
</body></html>
